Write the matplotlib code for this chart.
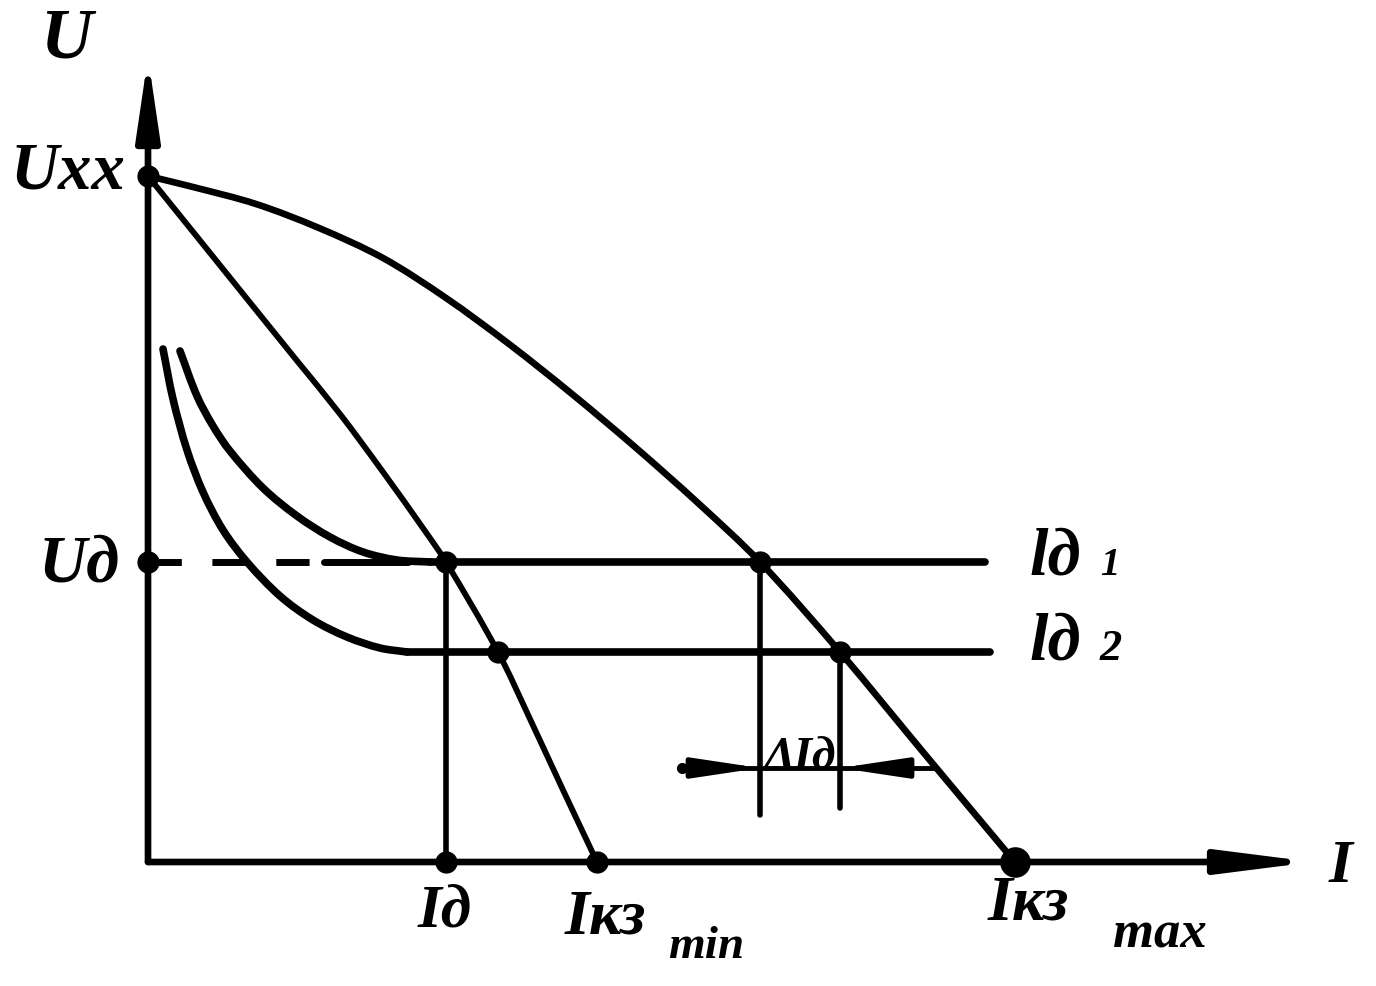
import matplotlib.pyplot as plt
from matplotlib.path import Path
from matplotlib.patches import PathPatch

# values (current I, voltage U), origin at the axes corner
U_xx = 6.86
U_d1 = 3.00
U_d2 = 2.10
I_d = 2.98
I_kz_min = 4.49
I_kz_max = 8.67
I_1 = 6.12
I_2 = 6.92
I_in2 = 3.50

# steep drooping source characteristic (outer)
outer_I = [0.0, 0.45, 1.08, 1.71, 2.35, 2.98, 3.61, 4.24, 4.87, 5.50, 6.12, 6.92, 7.80, 8.67]
outer_U = [6.86, 6.75, 6.58, 6.34, 6.04, 5.64, 5.18, 4.68, 4.15, 3.59, 3.00, 2.10, 1.04, 0.0]

# source characteristic (inner)
inner_I = [0.0, 0.50, 1.08, 1.50, 1.92, 2.35, 2.77, 2.98, 3.50, 3.82, 4.15, 4.49]
inner_U = [6.86, 6.24, 5.52, 5.00, 4.48, 3.90, 3.31, 3.00, 2.10, 1.43, 0.72, 0.0]

# arc characteristics for arc lengths l1, l2 (curved part, then flat to the end)
arc1_I = [0.32, 0.49, 0.65, 0.82, 1.15, 1.49, 1.82, 2.15, 2.49, 2.82]
arc1_U = [5.11, 4.66, 4.36, 4.11, 3.74, 3.46, 3.25, 3.10, 3.02, 3.00]
arc1_end = 8.37
arc2_I = [0.15, 0.25, 0.39, 0.55, 0.75, 0.99, 1.32, 1.65, 1.99, 2.32, 2.59]
arc2_U = [5.13, 4.63, 4.12, 3.70, 3.32, 3.00, 2.66, 2.42, 2.25, 2.14, 2.10]
arc2_end = 8.42

dI_left, dI_right, dI_level = 5.34, 7.89, 0.94


def smooth_line(ax, xs, ys, lw):
    # bezier curve through the read points, tangents scaled by chord length
    pts = list(zip(xs, ys))
    n = len(pts)
    d = [((pts[i + 1][0] - pts[i][0]) ** 2 + (pts[i + 1][1] - pts[i][1]) ** 2) ** 0.5
         for i in range(n - 1)]
    tang = []
    for i in range(n):
        a = pts[max(i - 1, 0)]
        b = pts[min(i + 1, n - 1)]
        s = (d[i - 1] if i > 0 else 0) + (d[i] if i < n - 1 else 0)
        tang.append(((b[0] - a[0]) / s, (b[1] - a[1]) / s))
    verts = [pts[0]]
    codes = [Path.MOVETO]
    for i in range(n - 1):
        c1 = (pts[i][0] + tang[i][0] * d[i] / 3, pts[i][1] + tang[i][1] * d[i] / 3)
        c2 = (pts[i + 1][0] - tang[i + 1][0] * d[i] / 3, pts[i + 1][1] - tang[i + 1][1] * d[i] / 3)
        verts += [c1, c2, pts[i + 1]]
        codes += [Path.CURVE4] * 3
    ax.add_patch(PathPatch(Path(verts, codes), fill=False, lw=lw, edgecolor='black',
                           capstyle='round', joinstyle='round'))


fig = plt.figure(figsize=(13.76, 9.86), dpi=100)
ax = fig.add_axes([0, 0, 1, 1])
ax.set_xlim(-1.48, 12.28)
ax.set_ylim(-1.24, 8.62)
ax.axis('off')

lw = 4.8
kw = dict(color='black', solid_capstyle='round', solid_joinstyle='round')

# axes with arrows
ax.annotate('', xy=(11.65, 0), xytext=(0, 0),
            arrowprops=dict(arrowstyle='-|>,head_length=2.2,head_width=0.28',
                            lw=lw, color='black', mutation_scale=25, shrinkA=0, shrinkB=0))
ax.annotate('', xy=(0, 8.05), xytext=(0, 0),
            arrowprops=dict(arrowstyle='-|>,head_length=1.9,head_width=0.28',
                            lw=lw, color='black', mutation_scale=25, shrinkA=0, shrinkB=0))

smooth_line(ax, outer_I, outer_U, lw)
smooth_line(ax, inner_I, inner_U, 4.2)
smooth_line(ax, arc1_I, arc1_U, 5.5)
smooth_line(ax, arc2_I, arc2_U, 5.5)
ax.plot([arc1_I[-1], arc1_end], [arc1_U[-1], arc1_U[-1]], lw=5.5, **kw)
ax.plot([arc2_I[-1], arc2_end], [arc2_U[-1], arc2_U[-1]], lw=5.5, **kw)

# dashed U_d level (joins the arc line) and verticals
ax.plot([0, 1.62], [U_d1, U_d1], lw=5, color='black', dashes=(4.8, 4.4))
ax.plot([1.76, 2.6], [U_d1, U_d1], lw=5, **kw)
ax.plot([I_d, I_d], [0, U_d1], lw=4, **kw)
ax.plot([I_1, I_1], [0.47, U_d1], lw=4, **kw)
ax.plot([I_2, I_2], [0.54, U_d2], lw=4, **kw)

# delta I arrows
ax.plot([dI_left, dI_right], [dI_level, dI_level], lw=3.5, **kw)
ax.plot([dI_left], [dI_level], 'o', color='black', ms=7)
for start, end in [(dI_left + 0.3, I_1), (dI_right - 0.5, I_2)]:
    ax.annotate('', xy=(end, dI_level), xytext=(start, dI_level),
                arrowprops=dict(arrowstyle='-|>,head_length=2.0,head_width=0.3',
                                lw=3.5, color='black', mutation_scale=20, shrinkA=0, shrinkB=0))

# points
pts_I = [0, 0, I_d, I_1, I_in2, I_2, I_d, I_kz_min]
pts_U = [U_xx, U_d1, U_d1, U_d1, U_d2, U_d2, 0, 0]
ax.plot(pts_I, pts_U, 'o', color='black', ms=15)
ax.plot([I_kz_max], [0], 'o', color='black', ms=21)

# labels
tkw = dict(family=['Liberation Serif', 'DejaVu Serif'], style='italic', weight='bold', color='black')
ax.text(-0.82, 8.22, 'U', fontsize=52, ha='center', va='center', **tkw)
ax.text(-0.23, 6.90, 'Uхх', fontsize=48, ha='right', va='center', **tkw)
ax.text(-0.28, 2.97, 'Uд', fontsize=48, ha='right', va='center', **tkw)
ax.text(11.92, -0.05, 'I', fontsize=44, ha='center', va='center', **tkw)

ax.text(8.82, 2.87, 'lд', fontsize=48, ha='left', va='baseline', **tkw)
ax.text(9.52, 2.87, '1', fontsize=28, ha='left', va='baseline', **tkw)
ax.text(8.82, 2.02, 'lд', fontsize=48, ha='left', va='baseline', **tkw)
ax.text(9.52, 2.02, '2', fontsize=32, ha='left', va='baseline', **tkw)

ax.text(2.70, -0.66, 'Iд', fontsize=44, ha='left', va='baseline', **tkw)
ax.text(4.17, -0.71, 'Iкз', fontsize=46, ha='left', va='baseline', **tkw)
ax.text(5.20, -0.96, 'min', fontsize=34, ha='left', va='baseline', **tkw)
ax.text(8.40, -0.58, 'Iкз', fontsize=46, ha='left', va='baseline', **tkw)
ax.text(9.65, -0.85, 'max', fontsize=38, ha='left', va='baseline', **tkw)

ax.text(6.52, 1.04, 'ΔIд', fontsize=34, ha='center', va='center', **tkw)

fig.savefig('out.png', dpi=100, facecolor='white')
